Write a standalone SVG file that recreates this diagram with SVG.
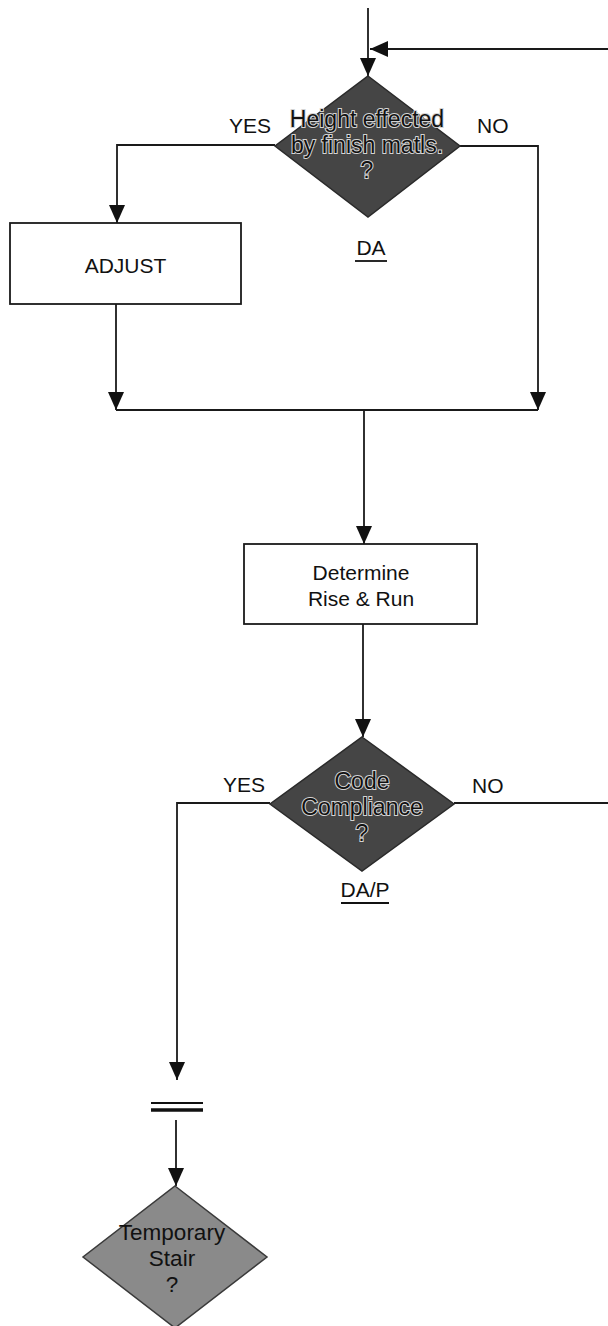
<svg xmlns="http://www.w3.org/2000/svg" width="608" height="1326" viewBox="0 0 608 1326">
<defs>
<style>
.ln{stroke:#1a1a1a;stroke-width:1.8;fill:none}
.box{fill:#fff;stroke:#1a1a1a;stroke-width:1.8}
.dk{fill:#454545;stroke:#2a2a2a;stroke-width:1.5}
.lt{fill:#8a8a8a;stroke:#3a3a3a;stroke-width:1.5}
.t{font-family:"Liberation Sans",Arial,sans-serif;font-size:21px;fill:#111}
.c{text-anchor:middle}
.dt{font-family:"Liberation Sans",Arial,sans-serif;font-size:23px;fill:#111;stroke:#d4d4d4;stroke-width:2;paint-order:stroke;text-anchor:middle}
.lt2{font-family:"Liberation Sans",Arial,sans-serif;font-size:22.5px;fill:#111;text-anchor:middle}
</style>
<marker id="ah" markerUnits="userSpaceOnUse" markerWidth="18" markerHeight="16" refX="18" refY="8" orient="auto">
<path d="M0,0 L18,8 L0,16 Z" fill="#111"/>
</marker>
</defs>

<g id="connectors">
<line class="ln" x1="368" y1="8" x2="368" y2="76" marker-end="url(#ah)"/>
<line class="ln" x1="608" y1="49" x2="370" y2="49" marker-end="url(#ah)"/>
<polyline class="ln" points="275,145 117,145 117,223" marker-end="url(#ah)"/>
<polyline class="ln" points="460,146 538,146 538,410" marker-end="url(#ah)"/>
<line class="ln" x1="116" y1="304" x2="116" y2="410" marker-end="url(#ah)"/>
<line class="ln" x1="116" y1="410" x2="538" y2="410"/>
<line class="ln" x1="364" y1="410" x2="364" y2="544" marker-end="url(#ah)"/>
<line class="ln" x1="363" y1="624" x2="363" y2="737" marker-end="url(#ah)"/>
<polyline class="ln" points="270,803 177,803 177,1080" marker-end="url(#ah)"/>
<line class="ln" x1="454" y1="803" x2="608" y2="803"/>
<line x1="151" y1="1103" x2="203" y2="1103" stroke="#111" stroke-width="2"/>
<line x1="151" y1="1110" x2="203" y2="1110" stroke="#111" stroke-width="3.5"/>
<line class="ln" x1="176" y1="1120" x2="176" y2="1186" marker-end="url(#ah)"/>
<text class="t" x="229" y="133">YES</text>
<text class="t" x="477" y="133">NO</text>
<text class="t" x="223" y="792">YES</text>
<text class="t" x="472" y="793">NO</text>
</g>

<g id="decision-height">
<polygon class="dk" points="368,76 460,146 368,217 275,146"/>
<text class="dt" x="367" y="127">Height effected</text>
<text class="dt" x="367" y="153">by finish matls.</text>
<text class="dt" x="367" y="178">?</text>
</g>

<g id="label-da">
<text class="t c" x="371" y="255">DA</text>
<line x1="355" y1="261" x2="387" y2="261" stroke="#111" stroke-width="1.8"/>
</g>

<g id="adjust">
<rect class="box" x="10" y="223" width="231" height="81"/>
<text class="t c" x="125.5" y="273">ADJUST</text>
</g>

<g id="determine">
<rect class="box" x="244" y="544" width="233" height="80"/>
<text class="t c" x="361" y="580">Determine</text>
<text class="t c" x="361" y="606">Rise &amp; Run</text>
</g>

<g id="decision-code">
<polygon class="dk" points="362,737 454,804 362,871 270,804"/>
<text class="dt" x="362" y="789">Code</text>
<text class="dt" x="362" y="815">Compliance</text>
<text class="dt" x="362" y="841">?</text>
</g>

<g id="label-dap">
<text class="t c" x="365" y="897">DA/P</text>
<line x1="341" y1="903" x2="389" y2="903" stroke="#111" stroke-width="1.8"/>
</g>

<g id="decision-temporary">
<polygon class="lt" points="175,1186 267,1257 175,1328 83,1257"/>
<text class="lt2" x="172" y="1240">Temporary</text>
<text class="lt2" x="172" y="1266">Stair</text>
<text class="lt2" x="172" y="1292">?</text>
</g>
</svg>
